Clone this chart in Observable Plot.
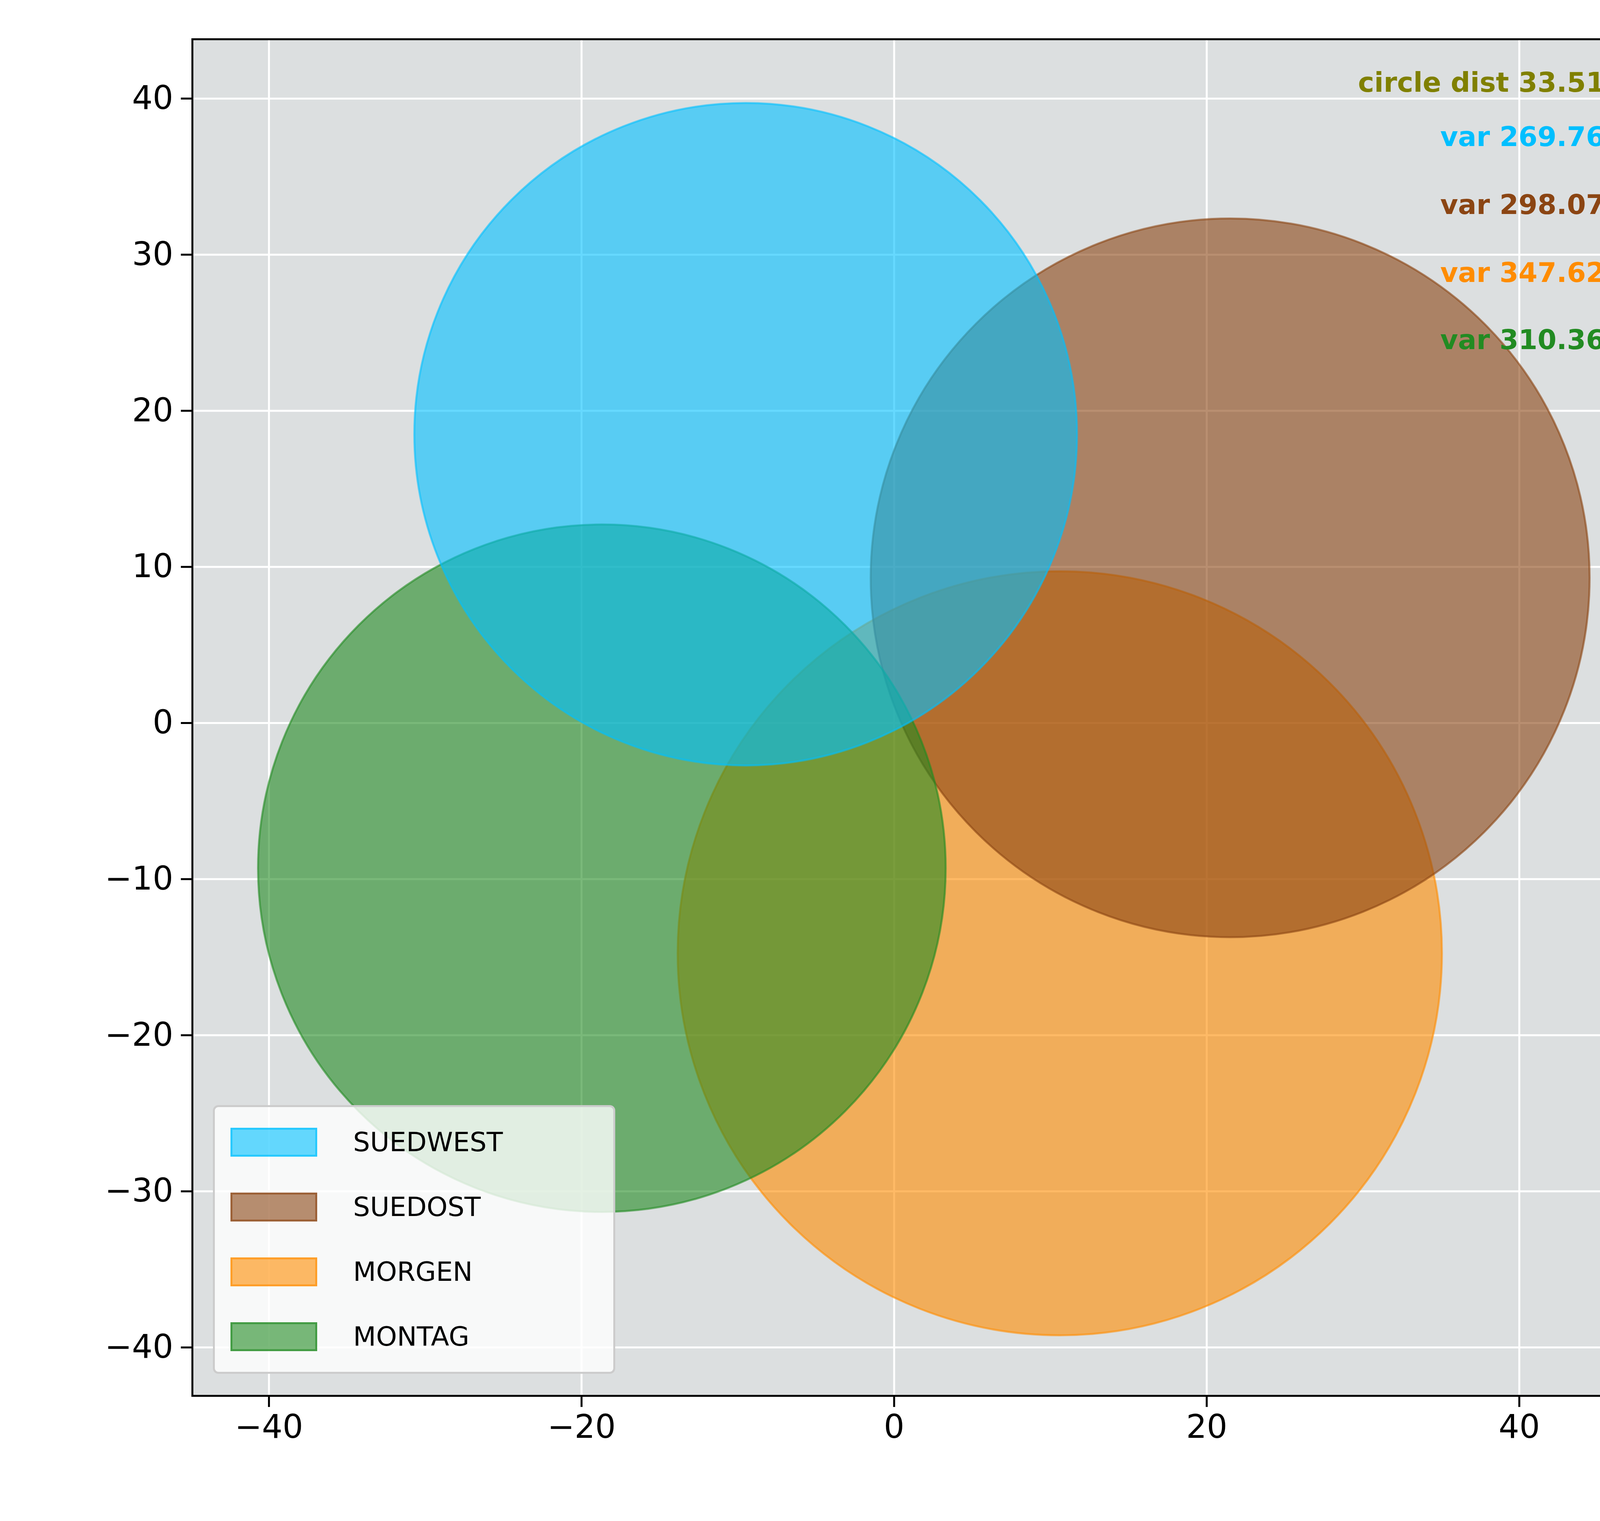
<!DOCTYPE html>
<html><head><meta charset="utf-8">
<script src="https://cdn.jsdelivr.net/npm/d3@7"></script>
<script src="https://cdn.jsdelivr.net/npm/@observablehq/plot@0.6"></script>
<style>html,body{margin:0;padding:0;background:#fff;font-family:"DejaVu Sans";overflow:hidden;}
#chart{position:relative;width:4323px;height:3895px;overflow:hidden;}
#chart svg{display:block;max-width:none;}
#legend{position:absolute;left:545px;top:2830px;width:1030px;height:688px;background:rgba(255,255,255,0.8);border:5px solid #ccc;border-radius:14px;box-sizing:border-box;}
.row{position:absolute;left:40px;display:flex;align-items:center;font-size:68px;}
.sw{width:222px;height:74px;margin-right:92px;box-sizing:border-box;border:5px solid;}</style>
</head><body><div id="chart"><div id="legend"></div></div>
<script>
const names = ['SUEDWEST','SUEDOST','MORGEN','MONTAG'];
const colors = ['#00bfff','#8b4513','#ff8c00','#228b22'];
const cx = [-9.5, 21.5, 10.6, -18.7];
const cy = [18.5, 9.3, -14.75, -9.3];
const radius = [21.2, 23.0, 24.45, 22.0];
const notes = ['circle dist 33.515','var 269.760','var 298.077','var 347.623','var 310.367'];
const noteColors = ['#808000','#00bfff','#8b4513','#ff8c00','#228b22'];
const ticks = [-40,-30,-20,-10,0,10,20,30,40];
const xTicks = [-40,-20,0,20,40];

const W = 4323, H = 3895, mL = 492, mR = 86, mT = 100, mB = 321;
const xDom = [-44.9, 48.7], yDom = [-43.1, 43.8];
const k = (W - mL - mR) / (xDom[1] - xDom[0]);
const circles = names.map((n,i) => ({n, x: cx[i], y: cy[i], r: radius[i]*k, c: colors[i]}));
const noteDy = [85, 224, 398, 572, 744];
const noteData = notes.map((t,i) => ({t, c: noteColors[i], dy: noteDy[i]}));
const fmt = d => d < 0 ? "\u2212" + (-d) : d;

const chart = Plot.plot({
  width: W, height: H, marginLeft: mL, marginRight: mR, marginTop: mT, marginBottom: mB,
  style: {fontFamily: "DejaVu Sans", fontSize: "83px", color: "#000", background: "#fff", width: W + "px", height: H + "px", maxWidth: "none"},
  x: {domain: xDom, label: null},
  y: {domain: yDom, label: null},
  r: {type: "identity"},
  marks: [
    Plot.frame({fill: "#dcdfe0"}),
    Plot.gridX(xTicks, {stroke: "#fff", strokeOpacity: 1, strokeWidth: 5}),
    Plot.gridY(ticks, {stroke: "#fff", strokeOpacity: 1, strokeWidth: 5}),
    Plot.dot(circles, {x: "x", y: "y", r: "r", fill: d => d.c, fillOpacity: 0.6, stroke: d => d.c, strokeOpacity: 0.6, strokeWidth: 5}),
    ...noteData.map(d => Plot.text([d], {text: "t", frameAnchor: "top-right", textAnchor: "end", dx: -80, dy: d.dy, fill: d.c, fontWeight: "bold", fontSize: 70})),
    Plot.axisX({ticks: xTicks, tickSize: 29, tickPadding: 20, strokeWidth: 5, tickFormat: fmt, label: null}),
    Plot.axisY({ticks: ticks, tickSize: 29, tickPadding: 20, strokeWidth: 5, tickFormat: fmt, label: null}),
    Plot.frame({stroke: "#000", strokeWidth: 5})
  ]
});
document.getElementById('chart').prepend(chart);
const leg = d3.select('#legend');
names.forEach((n,i) => {
  const row = leg.append('div').attr('class','row').style('top', (50 + i*166) + 'px');
  row.append('div').attr('class','sw').style('background', d3.color(colors[i]).copy({opacity:0.6})).style('border-color', d3.color(colors[i]).copy({opacity:0.6}));
  row.append('span').text(n);
});
</script></body></html>
